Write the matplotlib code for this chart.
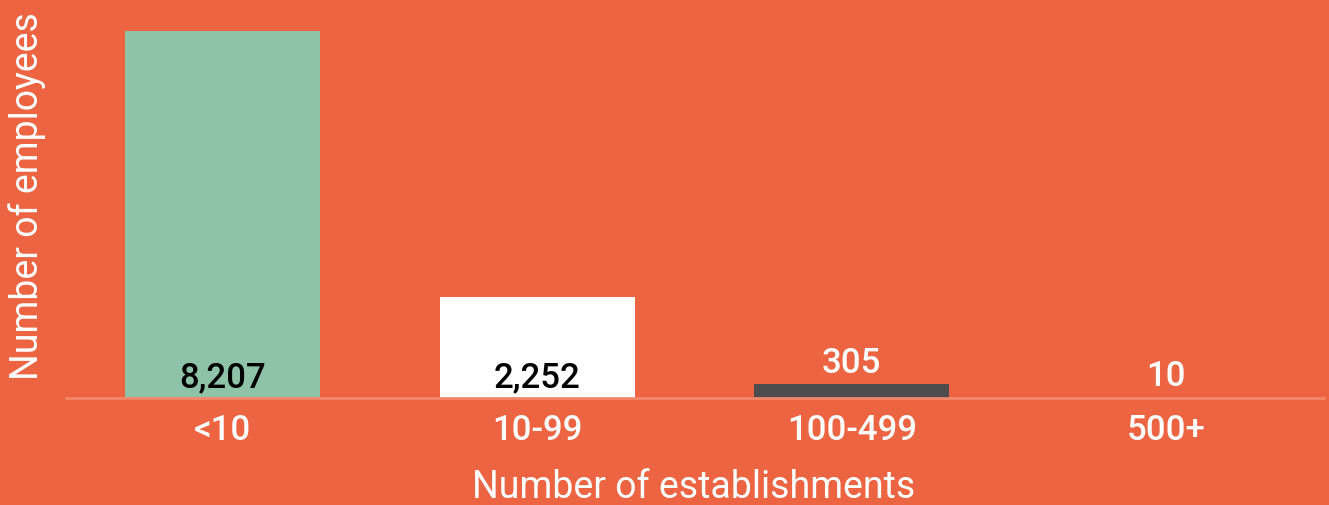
import matplotlib.pyplot as plt

# data
categories = ['<10', '10-99', '100-499', '500+']
employees = [8207, 2252, 305, 10]
bar_colors = ['#8FC3A8', '#FFFFFF', '#4D4D4D', '#EC6441']

bg = '#EC6441'
plt.rcParams['font.family'] = ['Roboto', 'DejaVu Sans']

fig = plt.figure(figsize=(13.29, 5.05), dpi=100, facecolor=bg)
W, H = 1329, 505
ax = fig.add_axes([65.5 / W, 1 - 398 / H, 1258 / W, 367 / H])
ax.set_facecolor(bg)

x = range(len(categories))
ax.bar(x, employees, width=0.62, color=bar_colors)
ax.set_xlim(-0.5, 3.5)
ax.set_ylim(0, max(employees))

for i, v in enumerate(employees):
    label = f'{v:,}'
    if v > 1000:
        ax.annotate(label, (i, 0), xytext=(0, 3), textcoords='offset points',
                    ha='center', va='bottom', fontsize=25, fontweight='medium',
                    color='black')
    else:
        ax.annotate(label, (i, v), xytext=(0, 3), textcoords='offset points',
                    ha='center', va='bottom', fontsize=25, fontweight='medium',
                    color='white')

for s in ['top', 'left', 'right']:
    ax.spines[s].set_visible(False)
ax.spines['bottom'].set_color('#F3876A')
ax.spines['bottom'].set_linewidth(2)

ax.set_yticks([])
ax.set_xticks(list(x))
ax.set_xticklabels(categories, fontsize=25, color='white', fontweight='medium')
ax.tick_params(axis='x', length=0, pad=11.5)

fig.text(694 / W, 1 - 487 / H, 'Number of establishments', ha='center', va='center',
         fontsize=27, color='white')
fig.text(27 / W, 1 - 196 / H, 'Number of employees', ha='center', va='center',
         rotation=90, fontsize=27, color='white')

fig.savefig('out.png', facecolor=bg)
